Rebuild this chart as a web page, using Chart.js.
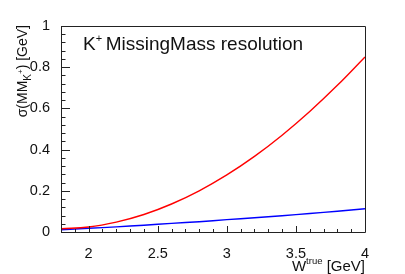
<!DOCTYPE html>
<html><head><meta charset="utf-8">
<script src="https://cdn.jsdelivr.net/npm/chart.js@4"></script>
<style>html,body{margin:0;padding:0;background:#fff}#c{display:block}</style>
</head><body>
<canvas id="c" width="405" height="274"></canvas>
<script>
// Data
const wTrue     = [1.8, 2.0, 2.2, 2.4, 2.6, 2.8, 3.0, 3.2, 3.4, 3.6, 3.8, 4.0];
const sigmaRed  = [0.016, 0.024, 0.048, 0.085, 0.136, 0.2, 0.277, 0.367, 0.47, 0.585, 0.712, 0.85];
const sigmaBlue = [0.011, 0.018, 0.025, 0.033, 0.042, 0.05, 0.06, 0.069, 0.079, 0.09, 0.101, 0.113];
const xTicks = [2, 2.5, 3, 3.5, 4];
const yTicks = [0, 0.2, 0.4, 0.6, 0.8, 1];
const titleText = "MissingMass resolution";

const FONT = "'Liberation Sans', Arial, sans-serif";

const decor = {
  id: 'decor',
  afterDraw(chart) {
    const {ctx, chartArea: a, scales: {x, y}} = chart;
    ctx.save();
    ctx.strokeStyle = '#222';
    ctx.lineWidth = 1;
    ctx.beginPath();
    ctx.rect(Math.round(a.left) + 0.5, Math.round(a.top) + 0.5, Math.round(a.right - a.left), Math.round(a.bottom - a.top));
    ctx.stroke();
    // inward ticks
    ctx.beginPath();
    for (let v = 1.8; v <= 4.0001; v += 0.1) {
      const px = Math.round(x.getPixelForValue(v)) + 0.5;
      const major = Math.abs(v * 2 - Math.round(v * 2)) < 1e-6;
      ctx.moveTo(px, a.bottom); ctx.lineTo(px, a.bottom - (major ? 6 : 3));
    }
    for (let v = 0; v <= 1.0001; v += 0.04) {
      const py = Math.round(y.getPixelForValue(v)) + 0.5;
      const major = Math.abs(v * 5 - Math.round(v * 5)) < 1e-6;
      ctx.moveTo(a.left, py); ctx.lineTo(a.left + (major ? 9 : 4.5), py);
    }
    ctx.stroke();
    // title inside
    ctx.fillStyle = '#111';
    ctx.textBaseline = 'alphabetic';
    ctx.textAlign = 'left';
    ctx.font = '19px ' + FONT;
    ctx.fillText('K', 83, 50);
    const kw = ctx.measureText('K').width;
    ctx.font = '11px ' + FONT;
    ctx.fillText('+', 83 + kw, 42);
    ctx.font = '19px ' + FONT;
    ctx.fillText(titleText, 83 + kw + 10, 50);
    // x-axis title
    ctx.textAlign = 'right';
    ctx.font = '15px ' + FONT;
    const part2 = ' [GeV]';
    const w2 = ctx.measureText(part2).width;
    ctx.fillText(part2, 365, 271);
    ctx.font = '9.5px ' + FONT;
    const wt = ctx.measureText('true').width;
    ctx.fillText('true', 365 - w2, 264);
    ctx.font = '15px ' + FONT;
    ctx.fillText('W', 365 - w2 - wt, 271);
    // y-axis title rotated
    ctx.translate(27, 25);
    ctx.rotate(-Math.PI / 2);
    ctx.textAlign = 'left';
    const pieces = [
      ['σ(MM', '14px', 0],
      ['K', '10px', 4],
      ['+', '8px', -4],
      [') [GeV]', '14px', 0]
    ];
    let total = 0;
    for (const [t, f] of pieces) { ctx.font = f + ' ' + FONT; total += ctx.measureText(t).width; }
    let cx = -total;
    for (const [t, f, dy] of pieces) {
      ctx.font = f + ' ' + FONT;
      ctx.fillText(t, cx, dy);
      cx += ctx.measureText(t).width;
    }
    ctx.restore();
  }
};

const fmt = v => String(+Number(v).toFixed(2));

new Chart(document.getElementById('c'), {
  type: 'line',
  data: {
    datasets: [
      {data: wTrue.map((w, i) => ({x: w, y: sigmaRed[i]})), borderColor: '#ff0000', borderWidth: 1.4, pointRadius: 0, tension: 0.4, fill: false},
      {data: wTrue.map((w, i) => ({x: w, y: sigmaBlue[i]})), borderColor: '#0000ff', borderWidth: 1.4, pointRadius: 0, tension: 0.4, fill: false}
    ]
  },
  options: {
    responsive: false,
    animation: false,
    layout: {padding: {top: 26, right: 40, left: 0, bottom: 0}},
    plugins: {legend: {display: false}, tooltip: {enabled: false}},
    scales: {
      x: {
        type: 'linear', min: 1.8, max: 4,
        afterBuildTicks: s => { s.ticks = xTicks.map(v => ({value: v})); },
        afterFit: s => { s.height = 42; },
        grid: {display: false},
        border: {display: false},
        ticks: {color: '#111', font: {family: FONT, size: 14.5}, padding: 5, maxRotation: 0, callback: fmt}
      },
      y: {
        type: 'linear', min: 0, max: 1,
        afterBuildTicks: s => { s.ticks = yTicks.map(v => ({value: v})); },
        afterFit: s => { s.width = 61; },
        grid: {display: false},
        border: {display: false},
        ticks: {color: '#111', font: {family: FONT, size: 14.5}, padding: 3, callback: fmt}
      }
    }
  },
  plugins: [decor]
});
</script>
</body></html>
